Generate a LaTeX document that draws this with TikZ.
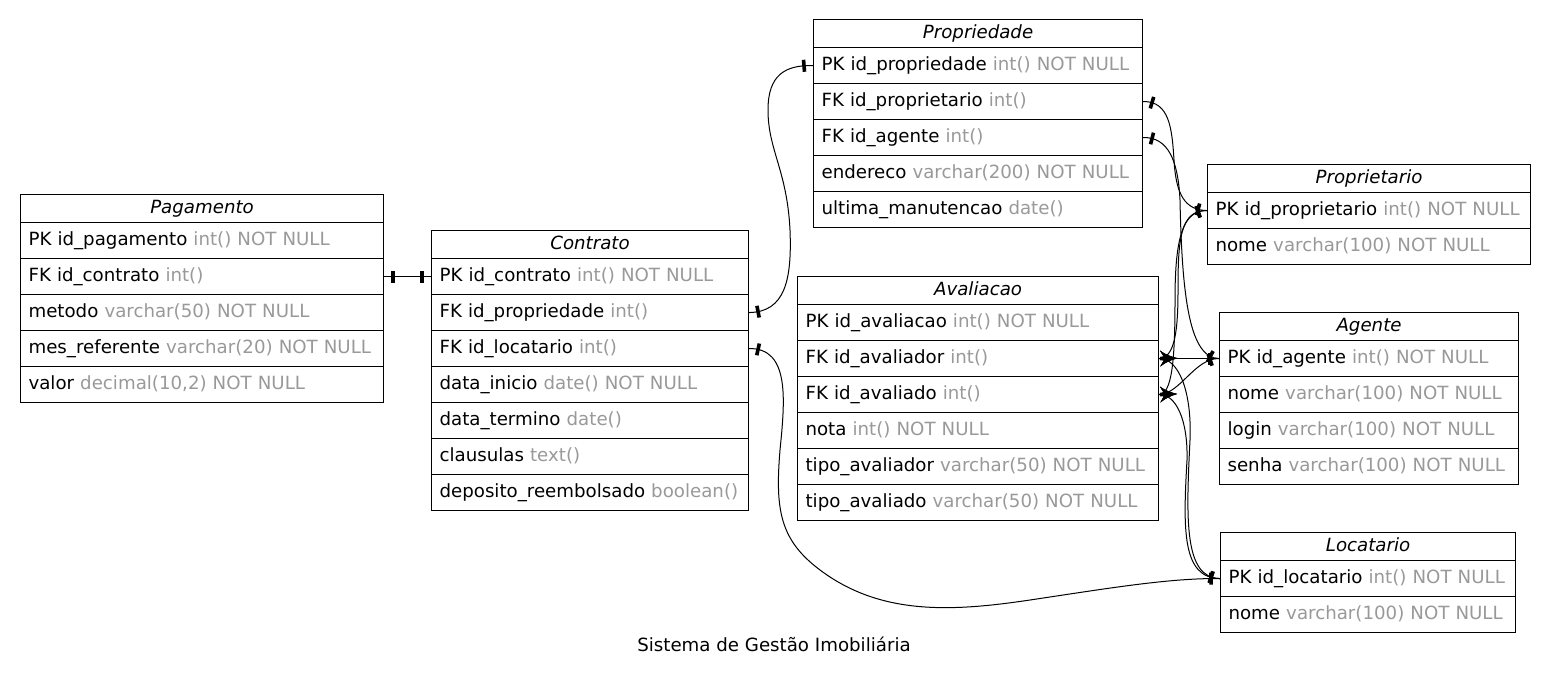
\documentclass[tikz,border=0pt]{standalone}
\usepackage{fontspec}
\setmainfont{DejaVu Sans}
\usetikzlibrary{decorations.markings}
\definecolor{typegray}{RGB}{153,153,153}
% a column: its name in black, its type in grey
\newcommand\fld[2]{\mbox{#1 \textcolor{typegray}{#2}}}
\newcommand\erfont{\fontsize{18.2}{22}\selectfont}

\begin{document}
\begin{tikzpicture}[x=1pt,y=-1pt,
  box/.style={draw, line width=1.1pt, anchor=north west, inner xsep=8pt,
    inner ysep=0pt, text height=13.5pt, text depth=4pt, font=\erfont,
    text width=#1},
  ttl/.style={box=#1, minimum height=28pt, align=center, font=\erfont\itshape},
  fieldrow/.style={box=#1, minimum height=36pt, align=left},
  conn/.style={draw, line width=1pt},
  teestart/.style={postaction={decorate, decoration={markings,
    mark=at position 9pt with {\fill (-1.8pt,-6pt) rectangle (1.8pt,6pt);}}}},
  teeend/.style={postaction={decorate, decoration={markings,
    mark=at position -9pt with {\fill (-1.8pt,-6pt) rectangle (1.8pt,6pt);}}}},
  crowstart/.style={postaction={decorate, decoration={markings,
    mark=at position 0pt with {\fill (18pt,0) .. controls (12pt,1.5pt) and (6pt,4pt) .. (1pt,8pt)
      -- (4pt,3pt) .. controls (6pt,2pt) .. (1pt,1.5pt) -- (1pt,-1.5pt)
      .. controls (6pt,-2pt) .. (4pt,-3pt) -- (1pt,-8pt)
      .. controls (6pt,-4pt) and (12pt,-1.5pt) .. (18pt,0) -- cycle;}}}}
]
\fill[white] (0,0) rectangle (1549,682);
\useasboundingbox (0,0) rectangle (1549,682);

% Pagamento
\node[ttl=347] (pag) at (20,194) {Pagamento};
\node[fieldrow=347] (pag-1) at (20,222) {\fld{PK id\_pagamento}{int() NOT NULL}};
\node[fieldrow=347] (pag-2) at (20,258) {\fld{FK id\_contrato}{int()}};
\node[fieldrow=347] (pag-3) at (20,294) {\fld{metodo}{varchar(50) NOT NULL}};
\node[fieldrow=347] (pag-4) at (20,330) {\fld{mes\_referente}{varchar(20) NOT NULL}};
\node[fieldrow=347] (pag-5) at (20,366) {\fld{valor}{decimal(10,2) NOT NULL}};

% Contrato
\node[ttl=301] (con) at (431,230) {Contrato};
\node[fieldrow=301] (con-1) at (431,258) {\fld{PK id\_contrato}{int() NOT NULL}};
\node[fieldrow=301] (con-2) at (431,294) {\fld{FK id\_propriedade}{int()}};
\node[fieldrow=301] (con-3) at (431,330) {\fld{FK id\_locatario}{int()}};
\node[fieldrow=301] (con-4) at (431,366) {\fld{data\_inicio}{date() NOT NULL}};
\node[fieldrow=301] (con-5) at (431,402) {\fld{data\_termino}{date()}};
\node[fieldrow=301] (con-6) at (431,438) {\fld{clausulas}{text()}};
\node[fieldrow=301] (con-7) at (431,474) {\fld{deposito\_reembolsado}{boolean()}};

% Propriedade
\node[ttl=313] (prop) at (813,19) {Propriedade};
\node[fieldrow=313] (prop-1) at (813,47) {\fld{PK id\_propriedade}{int() NOT NULL}};
\node[fieldrow=313] (prop-2) at (813,83) {\fld{FK id\_proprietario}{int()}};
\node[fieldrow=313] (prop-3) at (813,119) {\fld{FK id\_agente}{int()}};
\node[fieldrow=313] (prop-4) at (813,155) {\fld{endereco}{varchar(200) NOT NULL}};
\node[fieldrow=313] (prop-5) at (813,191) {\fld{ultima\_manutencao}{date()}};

% Avaliacao
\node[ttl=345] (ava) at (797,276) {Avaliacao};
\node[fieldrow=345] (ava-1) at (797,304) {\fld{PK id\_avaliacao}{int() NOT NULL}};
\node[fieldrow=345] (ava-2) at (797,340) {\fld{FK id\_avaliador}{int()}};
\node[fieldrow=345] (ava-3) at (797,376) {\fld{FK id\_avaliado}{int()}};
\node[fieldrow=345] (ava-4) at (797,412) {\fld{nota}{int() NOT NULL}};
\node[fieldrow=345] (ava-5) at (797,448) {\fld{tipo\_avaliador}{varchar(50) NOT NULL}};
\node[fieldrow=345] (ava-6) at (797,484) {\fld{tipo\_avaliado}{varchar(50) NOT NULL}};

% Proprietario
\node[ttl=307] (prtr) at (1207,164) {Proprietario};
\node[fieldrow=307] (prtr-1) at (1207,192) {\fld{PK id\_proprietario}{int() NOT NULL}};
\node[fieldrow=307] (prtr-2) at (1207,228) {\fld{nome}{varchar(100) NOT NULL}};

% Agente
\node[ttl=283] (ag) at (1219,312) {Agente};
\node[fieldrow=283] (ag-1) at (1219,340) {\fld{PK id\_agente}{int() NOT NULL}};
\node[fieldrow=283] (ag-2) at (1219,376) {\fld{nome}{varchar(100) NOT NULL}};
\node[fieldrow=283] (ag-3) at (1219,412) {\fld{login}{varchar(100) NOT NULL}};
\node[fieldrow=283] (ag-4) at (1219,448) {\fld{senha}{varchar(100) NOT NULL}};

% Locatario
\node[ttl=279] (loc) at (1220,532) {Locatario};
\node[fieldrow=279] (loc-1) at (1220,560) {\fld{PK id\_locatario}{int() NOT NULL}};
\node[fieldrow=279] (loc-2) at (1220,596) {\fld{nome}{varchar(100) NOT NULL}};

% one-to-one links
\draw[conn, teestart, teeend] (pag-2.east) -- (con-1.west);
\draw[conn, teestart, teeend] (con-2.east) .. controls (785,312) and (792,280) .. (790,230)
  .. controls (787,170) and (768,150) .. (768,110) .. controls (768,75) and (785,65) .. (prop-1.west);
\draw[conn, teestart, teeend] (con-3.east) .. controls (790,348) and (785,400) .. (780,450)
  .. controls (775,510) and (780,540) .. (820,570) .. controls (880,615) and (950,612) .. (1030,600)
  .. controls (1110,588) and (1170,578) .. (loc-1.west);
\draw[conn, teestart, teeend] (prop-2.east) .. controls (1170,101) and (1172,130) .. (1174,160)
  .. controls (1176,195) and (1185,210) .. (prtr-1.west);
\draw[conn, teestart, teeend] (prop-3.east) .. controls (1168,137) and (1178,160) .. (1180,200)
  .. controls (1182,300) and (1190,358) .. (ag-1.west);

% ratings: many per owner, agent or tenant
\draw[conn, crowstart, teeend] (ava-2.east) .. controls (1175,358) and (1178,330) .. (1178,290)
  .. controls (1178,240) and (1180,210) .. (prtr-1.west);
\draw[conn, crowstart, teeend] (ava-3.east) .. controls (1172,394) and (1175,360) .. (1175,300)
  .. controls (1175,240) and (1182,210) .. (prtr-1.west);
\draw[conn, crowstart, teeend] (ava-2.east) -- (ag-1.west);
\draw[conn, crowstart, teeend] (ava-3.east) .. controls (1180,394) and (1195,358) .. (ag-1.west);
\draw[conn, crowstart, teeend] (ava-2.east) .. controls (1178,358) and (1192,390) .. (1190,440)
  .. controls (1186,520) and (1184,578) .. (loc-1.west);
\draw[conn, crowstart, teeend] (ava-3.east) .. controls (1176,394) and (1188,420) .. (1187,460)
  .. controls (1183,530) and (1182,578) .. (loc-1.west);

\node[font=\erfont, anchor=base] (caption) at (774,651) {Sistema de Gestão Imobiliária};
\end{tikzpicture}
\end{document}
